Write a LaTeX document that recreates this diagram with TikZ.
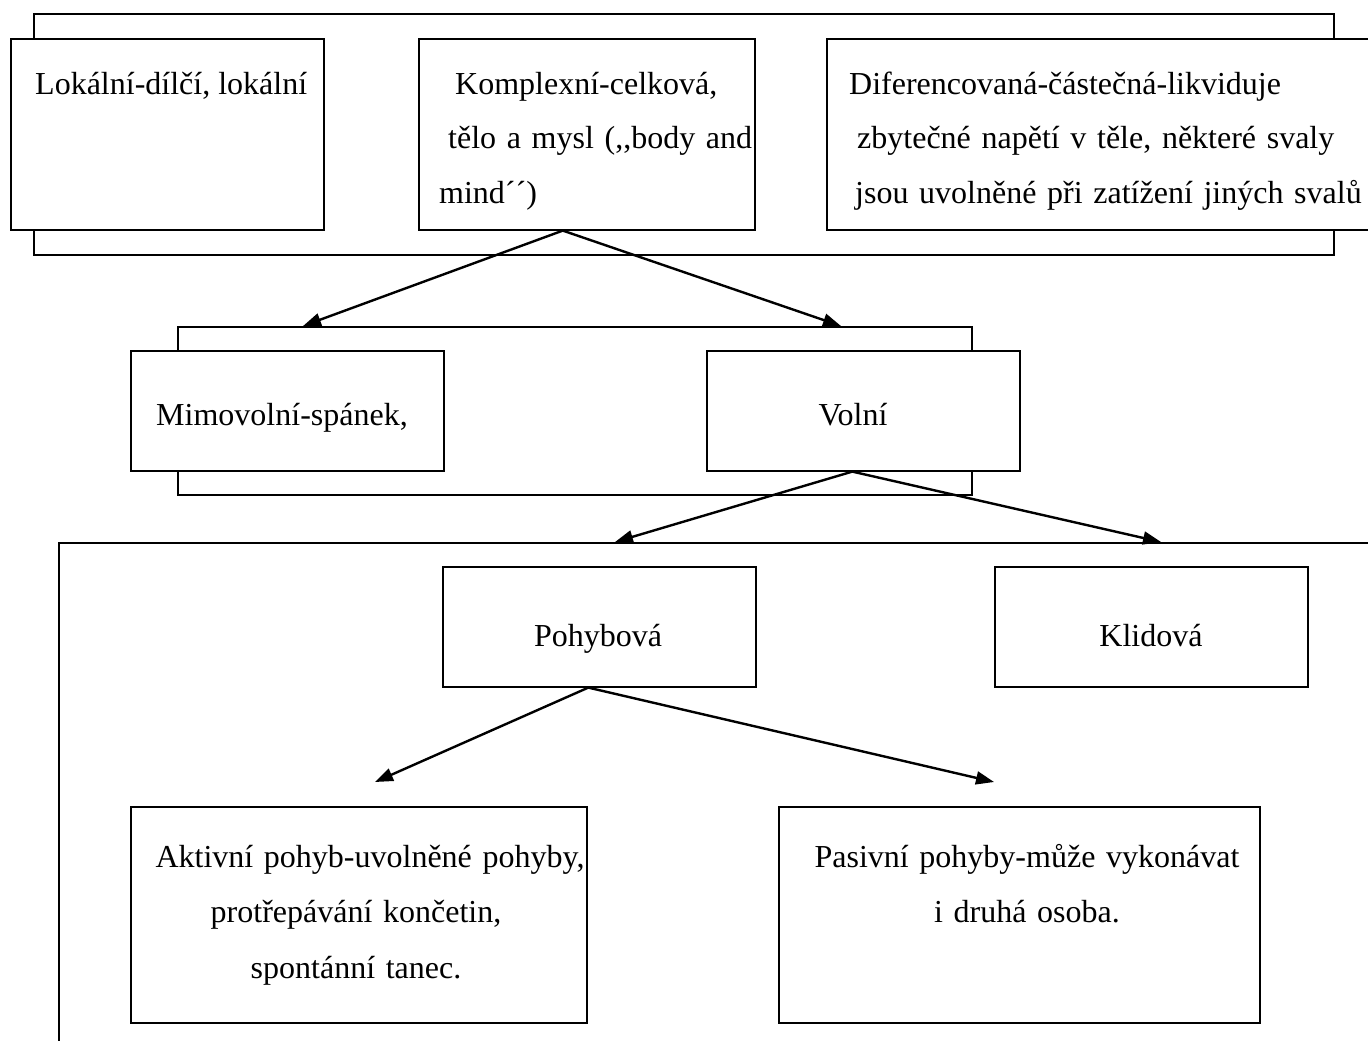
\documentclass[tikz,border=0pt]{standalone}
\usepackage{fontspec}
\setmainfont{Liberation Serif}
\usetikzlibrary{arrows.meta}

\begin{document}
\begin{tikzpicture}[
    x=1pt, y=-1pt,
    grp/.style={
      draw, line width=1.6pt, inner sep=0pt, anchor=north west
    },
    box/.style={
      draw, line width=1.6pt, fill=white, inner sep=0pt, anchor=north west
    },
    txt/.style={inner sep=0pt, font={\fontsize{32}{54.5}\selectfont}},
    txtlow/.style={inner sep=0pt, font={\fontsize{32}{55.5}\selectfont}},
    arr/.style={-{Triangle[length=18pt,width=13pt]}, line width=2.4pt}
  ]
    \fill[white] (0,0) rectangle (1368,1041);
    \clip (0,0) rectangle (1368,1041);
    % skupiny (ramecky za boxy)
    \node[grp, minimum width=1300pt, minimum height=241pt] (topgrp) at (33,13) {};
    \node[grp, minimum width=794pt, minimum height=168pt] (midgrp) at (177,326) {};
    \node[grp, minimum width=1400pt, minimum height=600pt] (lowgrp) at (58,542) {};
    % horni rada
    \node[box, minimum width=313pt, minimum height=191pt] (lok) at (10,38) {};
    \node[box, minimum width=336pt, minimum height=191pt] (kom) at (418,38) {};
    \node[box, minimum width=560pt, minimum height=191pt] (dif) at (826,38) {};
    \node[txt, anchor=base west] (loktx) at (35,94) {Lokální-dílčí, lokální};
    \node[txt, anchor=base west, text width=330pt, align=left] (komtx) at (439,94)
      {\hspace*{16pt}Komplexní-celková,\\
       \hspace*{9pt}tělo a mysl (,{},body and\\
       mind´´)};
    \node[txt, anchor=base west, text width=520pt, align=left] (diftx) at (849,94)
      {Diferencovaná-částečná-likviduje\\
       \hspace*{8pt}zbytečné napětí v těle, některé svaly\\
       \hspace*{6pt}jsou uvolněné při zatížení jiných svalů};
    % prostredni rada
    \node[box, minimum width=313pt, minimum height=120pt] (mim) at (130,350) {};
    \node[box, minimum width=313pt, minimum height=120pt] (vol) at (706,350) {};
    \node[txt, anchor=base] (mimtx) at (282,425) {Mimovolní-spánek,};
    \node[txt, anchor=base] (voltx) at (853,425) {Volní};
    % spodni rada
    \node[box, minimum width=313pt, minimum height=120pt] (poh) at (442,566) {};
    \node[box, minimum width=313pt, minimum height=120pt] (kli) at (994,566) {};
    \node[txt, anchor=base] (pohtx) at (598,646) {Pohybová};
    \node[txt, anchor=base] (klitx) at (1151,646) {Klidová};
    \node[box, minimum width=456pt, minimum height=216pt] (akt) at (130,806) {};
    \node[box, minimum width=481pt, minimum height=216pt] (pas) at (778,806) {};
    \node[txtlow, anchor=base, text width=470pt, align=center] (akttx) at (356,867)
      {\hspace*{28pt}Aktivní pohyb-uvolněné pohyby,\\
       protřepávání končetin,\\
       spontánní tanec.};
    \node[txtlow, anchor=base, text width=470pt, align=center] (pastx) at (1027,867)
      {Pasivní pohyby-může vykonávat\\
       i druhá osoba.};
    % konce sipek
    \coordinate (kmim) at (303,326);
    \coordinate (kvol) at (841,326);
    \coordinate (kpoh) at (615,542);
    \coordinate (kkli) at (1161,542);
    \coordinate (kakt) at (375,782);
    \coordinate (kpas) at (994,782);
    \draw[arr] ([xshift=-24pt]kom.south) -- (kmim);
    \draw[arr] ([xshift=-24pt]kom.south) -- (kvol);
    \draw[arr] ([xshift=-11pt]vol.south) -- (kpoh);
    \draw[arr] ([xshift=-11pt]vol.south) -- (kkli);
    \draw[arr] ([xshift=-11pt]poh.south) -- (kakt);
    \draw[arr] ([xshift=-11pt]poh.south) -- (kpas);
  \end{tikzpicture}
\end{document}
